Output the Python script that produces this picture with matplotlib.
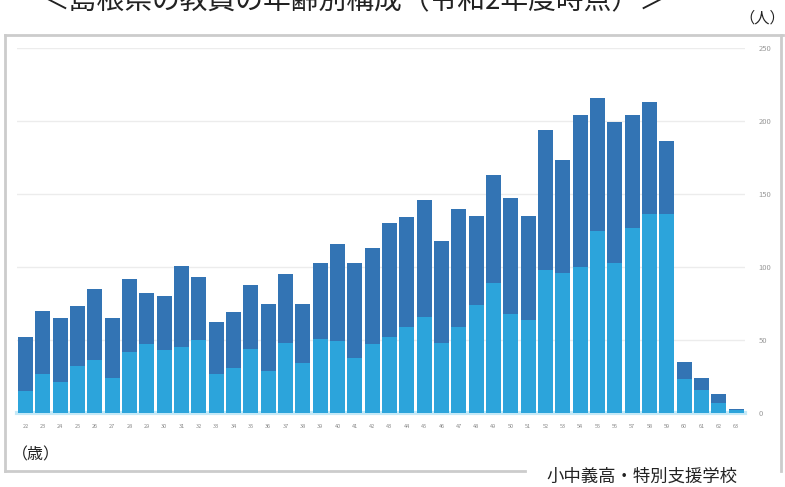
# 島根県の教員の年齢別構成 (stacked bars)
import matplotlib.pyplot as plt
import numpy as np

plt.rcParams['font.family'] = ['Noto Sans CJK JP', 'DejaVu Sans']

ages = [str(a) for a in range(22, 64)]
# lower (light) and upper (dark) segments, people per age
lower = [15, 27, 21, 32, 36, 24, 42, 47, 43, 45, 50, 27, 31, 44, 29, 48, 34, 51,
         49, 38, 47, 52, 59, 66, 48, 59, 74, 89, 68, 64, 98, 96, 100, 125, 103, 127,
         136, 136, 23, 16, 7, 2]
total = [52, 70, 65, 73, 85, 65, 92, 82, 80, 101, 93, 62, 69, 88, 75, 95, 75, 103,
         116, 103, 113, 130, 134, 146, 118, 140, 135, 163, 147, 135, 194, 173, 204,
         216, 199, 204, 213, 186, 35, 24, 13, 3]
upper = [t - b for t, b in zip(total, lower)]
yticks = [0, 50, 100, 150, 200, 250]

light = '#2ca4db'
dark = '#3374b4'

fig = plt.figure(figsize=(7.85, 4.87), dpi=100)
ax = fig.add_axes([16.8 / 785, 74 / 487, 728 / 785, 365 / 487])

x = np.arange(len(ages))
ax.bar(x, lower, width=0.87, color=light, zorder=3)
ax.bar(x, upper, width=0.87, bottom=lower, color=dark, zorder=3)

ax.set_xlim(-0.5, len(ages) - 0.5)
ax.set_ylim(0, 250)
ax.yaxis.tick_right()
ax.set_yticks(yticks)
ax.set_yticklabels([str(v) for v in yticks], fontsize=5.5, color='#999999')
ax.tick_params(axis='y', length=0, pad=10)
ax.set_xticks(x)
ax.set_xticklabels(ages, fontsize=4, color='#888888')
ax.tick_params(axis='x', length=0, pad=8)
ax.grid(axis='y', color='#ececec', linewidth=1, zorder=0)
for s in ['top', 'left', 'right']:
    ax.spines[s].set_visible(False)
ax.spines['bottom'].set_color('#c5e9f7')
ax.spines['bottom'].set_linewidth(3)

# outer frame
frame_c = '#cccccc'
fig.add_artist(plt.Line2D([5 / 785, 5 / 785], [1 - 35 / 487, 1 - 471 / 487],
                          color=frame_c, lw=2))
fig.add_artist(plt.Line2D([5 / 785, 783 / 785], [1 - 35 / 487, 1 - 35 / 487],
                          color=frame_c, lw=2))
fig.add_artist(plt.Line2D([781 / 785, 781 / 785], [1 - 35 / 487, 1 - 471 / 487],
                          color=frame_c, lw=2))
fig.add_artist(plt.Line2D([5 / 785, 525 / 785], [1 - 471 / 487, 1 - 471 / 487],
                          color=frame_c, lw=2))

fig.text(354 / 785, 1 - 1 / 487, '＜島根県の教員の年齢別構成（令和2年度時点）＞',
         fontsize=20, ha='center', va='center', color='#222222')
fig.text(762 / 785, 1 - 18 / 487, '（人）', fontsize=11, ha='center', va='center',
         color='#222222')
fig.text(12 / 785, 1 - 455 / 487, '（歳）', fontsize=11.5, ha='left', va='center',
         color='#222222')
fig.text(642 / 785, 1 - 477 / 487, '小中義高・特別支援学校', fontsize=12.5,
         ha='center', va='center', color='#222222')

fig.savefig('out.png', dpi=100)
